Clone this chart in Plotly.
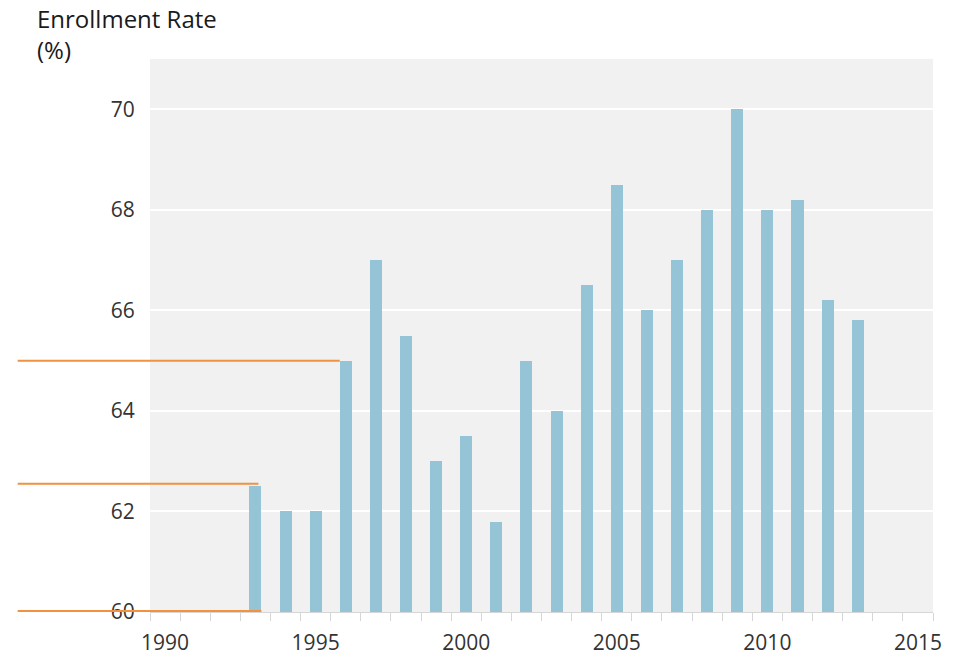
import plotly.graph_objects as go

years = [1993, 1994, 1995, 1996, 1997, 1998, 1999, 2000, 2001, 2002, 2003,
         2004, 2005, 2006, 2007, 2008, 2009, 2010, 2011, 2012, 2013]
rates = [62.5, 62.0, 62.0, 65.0, 67.0, 65.5, 63.0, 63.5, 61.8, 65.0, 64.0,
         66.5, 68.5, 66.0, 67.0, 68.0, 70.0, 68.0, 68.2, 66.2, 65.8]

x_tick_vals = [1990, 1995, 2000, 2005, 2010, 2015]
y_tick_vals = [60, 62, 64, 66, 68, 70]

# reference lines: level and the year position whose bar they run to
ref_levels = [65.0, 62.55, 60.02]
ref_end_years = [1995.8, 1993.1, 1993.2]

X_RANGE = [1989.5, 2015.5]
Y_RANGE = [60, 71]

fig = go.Figure()
fig.add_trace(go.Bar(
    x=years, y=rates, width=0.4,
    marker=dict(color="#94c4d6", line=dict(width=0)),
))

def xpaper(v):
    return (v - X_RANGE[0]) / (X_RANGE[1] - X_RANGE[0])

def ypaper(v):
    return (v - Y_RANGE[0]) / (Y_RANGE[1] - Y_RANGE[0])

for lvl, ey in zip(ref_levels, ref_end_years):
    fig.add_shape(type="line", xref="paper", yref="paper",
                  x0=-0.169, x1=xpaper(ey), y0=ypaper(lvl), y1=ypaper(lvl),
                  line=dict(color="#f0923f", width=2), layer="above")

fig.add_annotation(text="Enrollment Rate<br>(%)", xref="paper", yref="paper",
                   x=-0.147, y=1.106, xanchor="left", yanchor="top", showarrow=False,
                   align="left", font=dict(family="Open Sans", size=24, color="#1a1a1a"))

fig.update_layout(
    width=959, height=656,
    margin=dict(l=150, r=26, t=59, b=44, autoexpand=False),
    paper_bgcolor="white", plot_bgcolor="#f1f1f1",
    showlegend=False,
    font=dict(family="Open Sans", size=21, color="#333333"),
    bargap=0,
)
fig.update_xaxes(range=X_RANGE, tickmode="array", tickvals=x_tick_vals,
                 ticks="outside", ticklen=12, tickcolor="rgba(0,0,0,0)",
                 showgrid=False, zeroline=False, automargin=False,
                 showline=True, linecolor="#d6d6d6", linewidth=1,
                 minor=dict(ticks="outside", ticklen=8, tickcolor="#d6d6d6",
                            tickmode="linear", tick0=1989.5, dtick=1, showgrid=False))
fig.update_yaxes(range=Y_RANGE, tickmode="array", tickvals=y_tick_vals,
                 ticks="outside", ticklen=10, tickcolor="rgba(0,0,0,0)",
                 showgrid=True, gridcolor="white", gridwidth=1.5, zeroline=False,
                 showline=False, automargin=False)

fig.write_html("out.html", config={"displayModeBar": False},
               post_script="document.body.style.margin='0';")
